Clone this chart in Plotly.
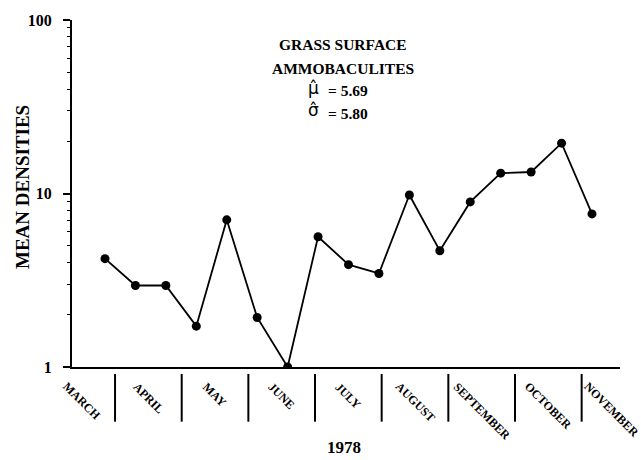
import plotly.graph_objects as go

# Data
sample_index = list(range(17))
mean_density = [4.21, 2.95, 2.95, 1.72, 7.05, 1.93, 1.0, 5.63, 3.89, 3.46,
                9.8, 4.68, 8.94, 13.1, 13.3, 19.5, 7.63]
months = ["MARCH", "APRIL", "MAY", "JUNE", "JULY", "AUGUST",
          "SEPTEMBER", "OCTOBER", "NOVEMBER"]
month_bounds = [0.33, 2.52, 4.71, 6.90, 9.09, 11.28, 13.47, 15.66]
y_tickvals = [1, 10, 100]
y_ticktext = ["1", "10", "100"]
mu_hat = "5.69"
sigma_hat = "5.80"

FONT = "Liberation Serif"
L, R, T, B = 72, 21, 18, 93
W, H = 641, 460
pw, ph = W - L - R, H - T - B


def px(x):
    return (x - L) / pw


def py(y):
    return (H - B - y) / ph


month_w = month_bounds[1] - month_bounds[0]
month_centers = [month_bounds[0] - month_w / 2] + [b + month_w / 2 for b in month_bounds]

fig = go.Figure()
fig.add_trace(go.Scatter(
    x=sample_index, y=mean_density, mode="lines+markers",
    line=dict(color="black", width=1.8),
    marker=dict(color="black", size=9),
    showlegend=False, hoverinfo="skip"))

shapes = []
for b in month_bounds:
    shapes.append(dict(type="line", xref="x", yref="paper", x0=b, x1=b,
                       y0=py(374), y1=py(422), line=dict(color="black", width=2)))

annotations = []
for m, c in zip(months, month_centers):
    annotations.append(dict(text="<b>%s</b>" % m, x=c, xref="x", y=py(377), yref="paper",
                            xanchor="center", yanchor="top", textangle=45, showarrow=False,
                            font=dict(family=FONT, size=12, color="black")))
annotations[-1]["xshift"] = -3


def txt(text, x, y, size, xanchor="center", bold=True, family=FONT):
    return dict(text=("<b>%s</b>" % text) if bold else text, x=px(x), y=py(y),
                xref="paper", yref="paper", xanchor=xanchor, yanchor="middle",
                showarrow=False, font=dict(family=family, size=size, color="black"))


annotations += [
    txt("GRASS SURFACE", 343, 43, 15.5),
    txt("AMMOBACULITES", 343, 67, 15.5),
    txt("\u03bc\u0302", 313, 86, 17, bold=False, family="DejaVu Sans"),
    txt("= " + mu_hat, 326, 89, 15.5, xanchor="left"),
    txt("\u03c3\u0302", 313, 109, 17, bold=False, family="DejaVu Sans"),
    txt("= " + sigma_hat, 326, 112, 15.5, xanchor="left"),
    txt("1978", 344, 448, 17),
]
annotations.append(dict(text="<b>MEAN DENSITIES</b>", x=px(22), y=py(186),
                        xref="paper", yref="paper", textangle=-90, showarrow=False,
                        xanchor="center", yanchor="middle",
                        font=dict(family=FONT, size=19, color="black")))

fig.update_layout(
    width=W, height=H,
    margin=dict(l=L, r=R, t=T, b=B),
    paper_bgcolor="white", plot_bgcolor="white",
    shapes=shapes, annotations=annotations,
    xaxis=dict(range=[-1.084, 16.92], showgrid=False, zeroline=False,
               showticklabels=False, ticks="", showline=True,
               linecolor="black", linewidth=2),
    yaxis=dict(type="log", range=[0, 2], showgrid=False, zeroline=False,
               showline=True, linecolor="black", linewidth=2,
               tickvals=y_tickvals, ticktext=y_ticktext,
               ticks="outside", ticklen=7, tickwidth=1.5, tickcolor="black",
               ticklabelstandoff=8,
               tickfont=dict(family=FONT, size=16, color="black", weight="bold"),
               minor=dict(ticks="outside", ticklen=3, tickcolor="black", tickwidth=1,
                          dtick="D1", showgrid=False)),
)

fig.write_html("out.html")
